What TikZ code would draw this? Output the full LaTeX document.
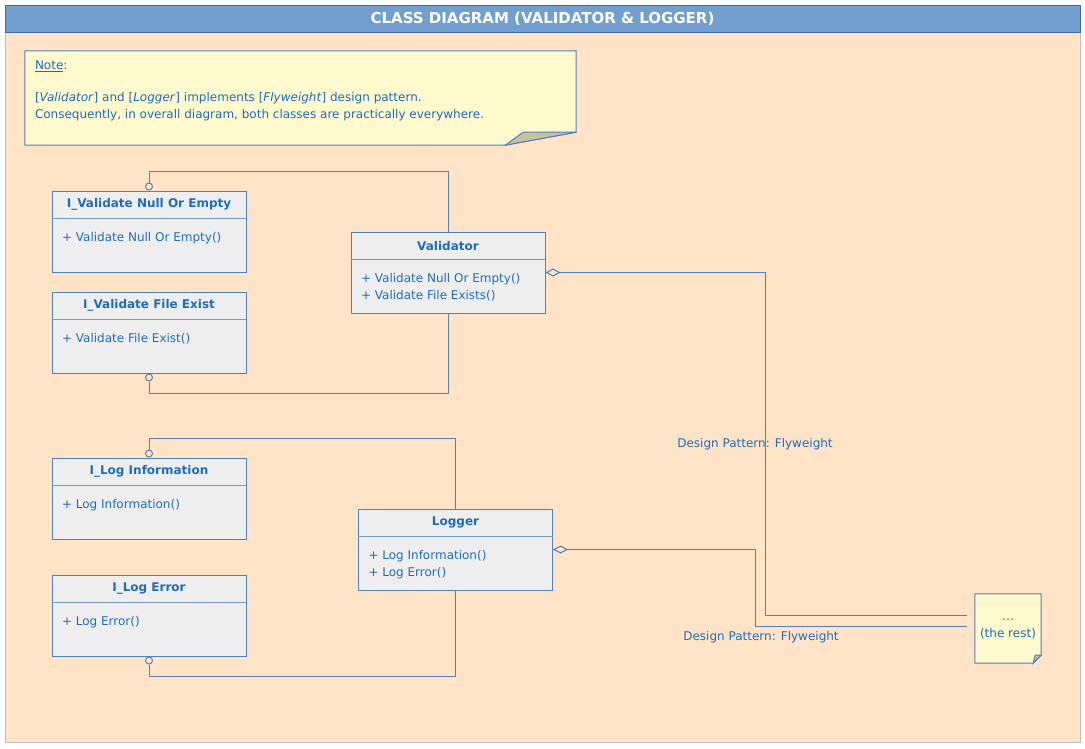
\documentclass[tikz,border=0pt]{standalone}
\usepackage{fontspec}
\setmainfont{DejaVu Sans}
\usetikzlibrary{positioning, arrows.meta, calc}

\definecolor{pagebg}{HTML}{FFE4C8}
\definecolor{barblue}{HTML}{729FCF}
\definecolor{bardark}{HTML}{3F6AA8}
\definecolor{noteyellow}{HTML}{FFFACD}
\definecolor{notefold}{HTML}{C9C29F}
\definecolor{classgray}{HTML}{EEEEEE}
\definecolor{umlblue}{HTML}{4F81BD}
\definecolor{umltext}{HTML}{1F6DB8}
\definecolor{linkblue}{HTML}{5A7EB5}

\begin{document}
\begin{tikzpicture}[x=1pt, y=-1pt,
  every node/.style={text=umltext, font=\fontsize{12}{17}\selectfont},
  titlebar/.style={draw=bardark, fill=barblue, line width=1pt, minimum width=1075pt, minimum height=27pt, inner sep=0pt, text=white, font=\fontsize{15}{17}\selectfont\bfseries},
  classbox/.style={draw=umlblue, fill=classgray, line width=1pt, minimum width=194pt, minimum height=81pt, inner sep=0pt},
  classname/.style={minimum width=194pt, minimum height=28pt, inner sep=0pt, font=\fontsize{12}{14}\selectfont\bfseries},
  divider/.style={draw=umlblue!80, line width=1pt},
  ops/.style={align=left, inner sep=0pt},
  lolly/.style={circle, draw=linkblue, fill=pagebg, line width=1pt, minimum size=7pt, inner sep=0pt},
  link/.style={draw=linkblue, line width=1pt},
  agg/.style={draw=umlblue, line width=1pt, {Diamond[open, length=15pt, width=8pt]}-},
  notebg/.style={draw=umlblue, fill=noteyellow, line width=1pt},
  foldbg/.style={draw=umlblue, fill=notefold, line width=1pt}
]
\useasboundingbox (0,0) rectangle (1085,748);
\draw[draw=gray!50, fill=pagebg] (5,5) rectangle (1080,742);
\node[titlebar] (title) at (542.5,18.5) {CLASS DIAGRAM (VALIDATOR \& LOGGER)};

% note
\node[minimum width=551pt, minimum height=94pt, inner sep=0pt] (note) at (300.5,98) {};
\filldraw[notebg] (note.north west) -- (note.north east) -- ([yshift=13pt]note.south east) -- ([xshift=-71pt]note.south east) -- (note.south west) -- cycle;
\filldraw[foldbg] ([xshift=-71pt]note.south east) -- ([xshift=-53pt,yshift=13pt]note.south east) -- ([yshift=13pt]note.south east) -- cycle;
\node[ops, below right=9.6pt and 10pt of note.north west] (notetext) {\underline{Note}:\\[15pt]{[}\textit{Validator}{]} and {[}\textit{Logger}{]} implements {[}\textit{Flyweight}{]} design pattern.\\Consequently, in overall diagram, both classes are practically everywhere.};

% validator side
\node[classbox] (vnull) at (149,231.5) {};
\node[classname, below=0pt of vnull.north] (vnullname) {I\_Validate Null Or Empty};
\draw[divider] (vnullname.south west) -- (vnullname.south east);
\node[ops, below right=13.4pt and 10pt of vnullname.south west] (vnullops) {+ Validate Null Or Empty()};

\node[classbox] (vfile) at (149,332.5) {};
\node[classname, below=0pt of vfile.north] (vfilename) {I\_Validate File Exist};
\draw[divider] (vfilename.south west) -- (vfilename.south east);
\node[ops, below right=13.4pt and 10pt of vfilename.south west] (vfileops) {+ Validate File Exist()};

\node[classbox] (validator) at (448,272.5) {};
\node[classname, below=0pt of validator.north] (validatorname) {Validator};
\draw[divider] (validatorname.south west) -- (validatorname.south east);
\node[ops, below right=13.4pt and 10pt of validatorname.south west] (validatorops) {+ Validate Null Or Empty()\\+ Validate File Exists()};

% logger side
\node[classbox] (loginfo) at (149,498.5) {};
\node[classname, below=0pt of loginfo.north] (loginfoname) {I\_Log Information};
\draw[divider] (loginfoname.south west) -- (loginfoname.south east);
\node[ops, below right=13.4pt and 10pt of loginfoname.south west] (loginfoops) {+ Log Information()};

\node[classbox] (logerr) at (149,615.5) {};
\node[classname, below=0pt of logerr.north] (logerrname) {I\_Log Error};
\draw[divider] (logerrname.south west) -- (logerrname.south east);
\node[ops, below right=13.4pt and 10pt of logerrname.south west] (logerrops) {+ Log Error()};

\node[classbox] (logger) at (455.5,549.5) {};
\node[classname, below=0pt of logger.north] (loggername) {Logger};
\draw[divider] (loggername.south west) -- (loggername.south east);
\node[ops, below right=13.4pt and 10pt of loggername.south west] (loggerops) {+ Log Information()\\+ Log Error()};

% the rest
\node[minimum width=66pt, minimum height=69pt, inner sep=0pt] (rest) at (1008,628.5) {};
\filldraw[notebg] (rest.north west) -- (rest.north east) -- ([yshift=8pt]rest.south east) -- ([xshift=-8pt]rest.south east) -- (rest.south west) -- cycle;
\filldraw[foldbg] ([xshift=-8pt]rest.south east) -- ([xshift=-6pt,yshift=8pt]rest.south east) -- ([yshift=8pt]rest.south east) -- cycle;
\node[align=center, inner sep=0pt] (resttext) at ([yshift=-1pt]rest.center) {\dots\\(the rest)};

% interfaces
\node[lolly, above=0pt of vnull.north] (vnullport) {};
\node[lolly, below=0pt of vfile.south] (vfileport) {};
\node[lolly, above=0pt of loginfo.north] (loginfoport) {};
\node[lolly, below=0pt of logerr.south] (logerrport) {};
\draw[link] (vnullport.north) -- ++(0,-11.5) -| (validator.north);
\draw[link] (vfileport.south) -- ++(0,11.5) -| (validator.south);
\draw[link] (loginfoport.north) -- ++(0,-11.5) -| (logger.north);
\draw[link] (logerrport.south) -- ++(0,11.5) -| (logger.south);

% aggregations
\draw[agg] (validator.east) -- ++(220,0) |- node[pos=0.25, xshift=-10.5pt] (vlabel) {Design Pattern: Flyweight} ([xshift=-8pt,yshift=13.5pt]rest.west);
\draw[agg] (logger.east) -- ++(202,0) |- node[pos=0.5, xshift=6pt, yshift=-11pt, anchor=center] (llabel) {Design Pattern: Flyweight} ([xshift=-8pt,yshift=2.5pt]rest.west);
\end{tikzpicture}
\end{document}
